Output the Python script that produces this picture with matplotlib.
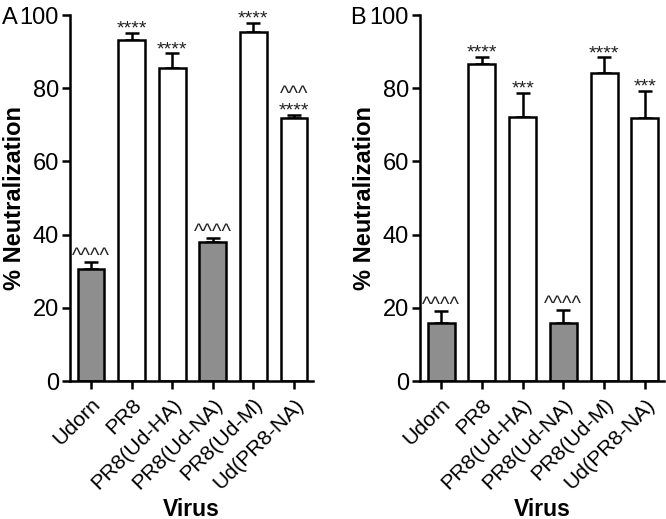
import matplotlib
matplotlib.use("Agg")
import matplotlib.pyplot as plt
import numpy as np

plt.rcParams['font.family'] = ['Liberation Sans', 'DejaVu Sans']

categories = ["Udorn", "PR8", "PR8(Ud-HA)", "PR8(Ud-NA)", "PR8(Ud-M)", "Ud(PR8-NA)"]
is_gray = [True, False, False, True, False, False]

a_means = [30.6, 93.2, 85.4, 37.9, 95.4, 71.9]
a_errs = [2.0, 2.0, 4.1, 1.1, 2.5, 0.8]
a_stars = ["", "****", "****", "", "****", "****"]
a_carets = ["^^^^", "", "", "^^^^", "", "^^^"]

b_means = [15.8, 86.5, 72.1, 15.8, 84.1, 71.8]
b_errs = [3.3, 2.1, 6.7, 3.6, 4.3, 7.5]
b_stars = ["", "****", "***", "", "****", "***"]
b_carets = ["^^^^", "", "", "^^^^", "", ""]

yticks = [0, 20, 40, 60, 80, 100]

fig = plt.figure(figsize=(6.66, 5.19), dpi=100)
ax_a = fig.add_axes([70/666, 1-381/519, (313-70)/666, (381-15)/519])
ax_b = fig.add_axes([420/666, 1-381/519, (664-420)/666, (381-15)/519])

def draw(ax, means, errs, stars, carets, letter, lx):
    x = np.arange(len(categories))
    colors = ['#8e8e8e' if g else 'white' for g in is_gray]
    ax.bar(x, means, width=0.66, color=colors, edgecolor='black', linewidth=1.8, zorder=2)
    ax.errorbar(x, means, yerr=[np.zeros(len(errs)), errs], fmt='none',
                ecolor='black', elinewidth=1.8, capsize=4.8, capthick=1.8, zorder=1)
    for xi, m, e, s, c in zip(x, means, errs, stars, carets):
        top = m + e
        off = 0
        if s:
            ax.annotate(s, (xi, top), xytext=(0, -0.5), textcoords='offset points',
                        ha='center', va='baseline', fontsize=14, color='#222222')
            off = 11
        if c:
            ax.annotate(c, (xi, top), xytext=(0, off), textcoords='offset points',
                        ha='center', va='baseline', fontsize=14.5, color='#222222')
    ax.set_xlim(-0.52, 5.47)
    ax.set_ylim(0, 100)
    ax.set_yticks(yticks)
    ax.set_xticks(x)
    ax.set_xticklabels(categories, rotation=45, ha='right', rotation_mode='anchor',
                       fontsize=15.3)
    ax.tick_params(axis='y', labelsize=17, width=1.8, length=6, direction='out', pad=2)
    ax.tick_params(axis='x', width=1.8, length=6, direction='out', pad=4)
    for s in ['top', 'right']:
        ax.spines[s].set_visible(False)
    for s in ['left', 'bottom']:
        ax.spines[s].set_linewidth(1.8)
    ax.set_ylabel('% Neutralization', fontsize=17, fontweight='bold')
    ax.yaxis.set_label_coords(-0.181, 0.5)
    bb = ax.get_position()
    fig.text((bb.x0 + bb.x1) / 2, 1 - 509/519, 'Virus', fontsize=16.5,
             fontweight='bold', ha='center', va='center')
    fig.text(lx, 1-18/519, letter, fontsize=17, ha='left', va='center')

draw(ax_a, a_means, a_errs, a_stars, a_carets, 'A', 2/666)
draw(ax_b, b_means, b_errs, b_stars, b_carets, 'B', 350/666)

fig.savefig('out.png', dpi=100)
